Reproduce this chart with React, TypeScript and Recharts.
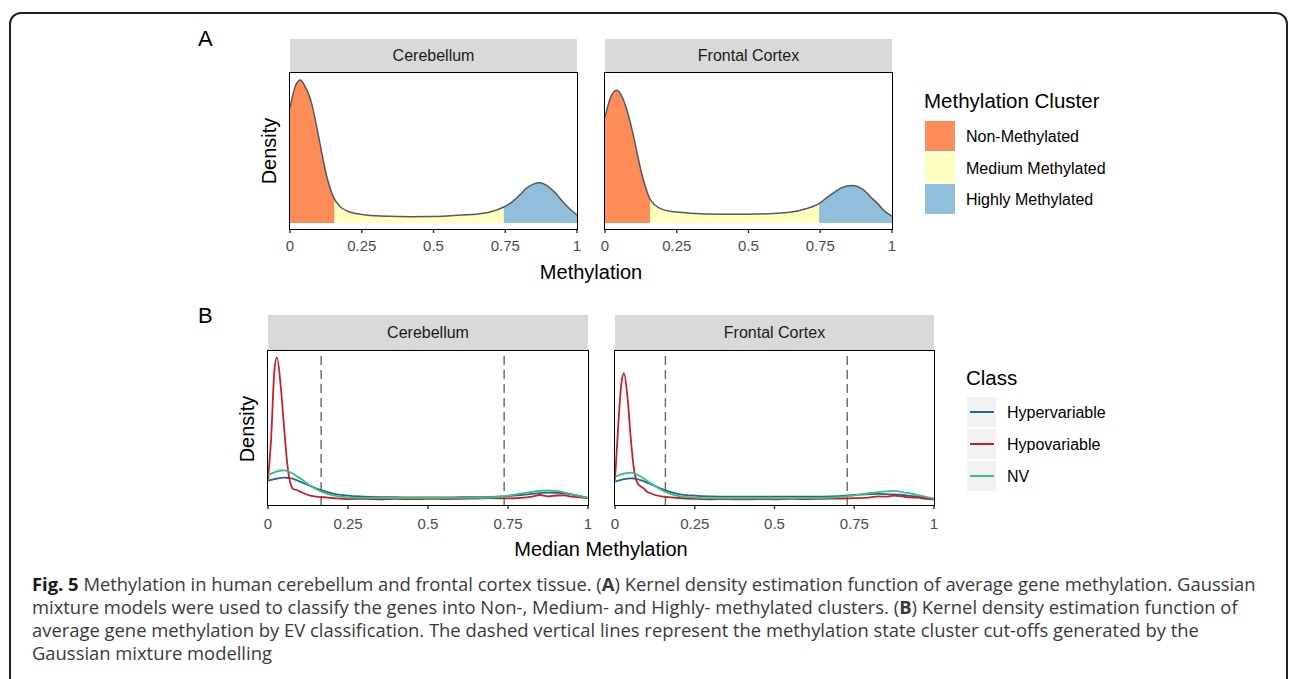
import React from 'react';
import { ComposedChart, Area, Line, XAxis, YAxis, ReferenceLine } from 'recharts';

const FONT = "'Liberation Sans', Arial, Helvetica, sans-serif";

// ---- A: kernel density of average gene methylation, coloured by GMM cluster ----
const xCerebellumA = [0, 0.02, 0.037, 0.05, 0.075, 0.1, 0.125, 0.155, 0.175, 0.2, 0.25, 0.3, 0.35, 0.42, 0.5, 0.6, 0.65, 0.7, 0.745, 0.775, 0.8, 0.825, 0.85, 0.87, 0.9, 0.925, 0.95, 0.975, 1];
const densCerebellumA = [3.38, 4.05, 4.2, 4.05, 3.52, 2.53, 1.47, 0.7, 0.48, 0.35, 0.25, 0.21, 0.195, 0.185, 0.19, 0.235, 0.26, 0.33, 0.47, 0.63, 0.82, 1.03, 1.15, 1.18, 1.07, 0.88, 0.63, 0.41, 0.235];
const cutCerebellumA = [0.155, 0.745];

const xFrontalA = [0, 0.02, 0.041, 0.06, 0.08, 0.1, 0.125, 0.157, 0.175, 0.2, 0.25, 0.3, 0.4, 0.5, 0.6, 0.65, 0.7, 0.746, 0.775, 0.8, 0.825, 0.86, 0.9, 0.925, 0.95, 0.975, 1];
const densFrontalA = [3.11, 3.7, 3.9, 3.7, 3.21, 2.53, 1.55, 0.7, 0.52, 0.4, 0.32, 0.285, 0.26, 0.26, 0.29, 0.32, 0.42, 0.57, 0.76, 0.91, 1.04, 1.1, 0.98, 0.77, 0.57, 0.34, 0.2];
const cutFrontalA = [0.157, 0.746];

const clusterNames = ['Non-Methylated', 'Medium Methylated', 'Highly Methylated'];
const clusterColors = ['#fc8d59', '#ffffbf', '#91bfdb'];

// ---- B: density of median methylation by EV class ----
const xB = [0, 0.01, 0.02, 0.028, 0.04, 0.05, 0.06, 0.07, 0.08, 0.09, 0.1, 0.11, 0.125, 0.15, 0.175, 0.2, 0.25, 0.3, 0.35, 0.4, 0.45, 0.5, 0.55, 0.6, 0.65, 0.7, 0.75, 0.8, 0.825, 0.85, 0.875, 0.9, 0.925, 0.95, 0.975, 1];

const hyperCerebellum = [1.62, 1.7, 1.76, 1.8, 1.86, 1.88, 1.87, 1.83, 1.76, 1.66, 1.54, 1.43, 1.26, 0.98, 0.76, 0.56, 0.36, 0.29, 0.25, 0.23, 0.22, 0.22, 0.22, 0.23, 0.24, 0.27, 0.33, 0.45, 0.52, 0.58, 0.62, 0.61, 0.57, 0.46, 0.32, 0.18];
const hypoCerebellum = [1.7, 5.3, 10.9, 12.0, 9.5, 6.2, 3.1, 1.4, 0.9, 0.84, 0.7, 0.59, 0.42, 0.28, 0.23, 0.17, 0.08, 0.1, 0.06, 0.09, 0.07, 0.1, 0.08, 0.1, 0.12, 0.15, 0.13, 0.2, 0.28, 0.42, 0.3, 0.38, 0.4, 0.28, 0.22, 0.15];
const nvCerebellum = [2.1, 2.22, 2.33, 2.4, 2.48, 2.5, 2.45, 2.32, 2.18, 2.0, 1.82, 1.64, 1.35, 0.93, 0.62, 0.42, 0.22, 0.18, 0.17, 0.17, 0.17, 0.17, 0.17, 0.18, 0.19, 0.23, 0.36, 0.58, 0.68, 0.76, 0.8, 0.76, 0.64, 0.48, 0.32, 0.2];

const hyperFrontal = [1.54, 1.62, 1.7, 1.75, 1.8, 1.82, 1.81, 1.76, 1.68, 1.58, 1.46, 1.36, 1.18, 0.9, 0.67, 0.5, 0.36, 0.3, 0.28, 0.28, 0.28, 0.28, 0.28, 0.28, 0.29, 0.33, 0.42, 0.5, 0.51, 0.5, 0.47, 0.42, 0.35, 0.28, 0.19, 0.11];
const hypoFrontal = [1.7, 6.2, 9.8, 10.66, 8.4, 5.0, 2.5, 1.45, 1.15, 0.98, 0.7, 0.58, 0.42, 0.28, 0.22, 0.17, 0.1, 0.06, 0.08, 0.05, 0.08, 0.06, 0.09, 0.08, 0.1, 0.12, 0.15, 0.22, 0.3, 0.28, 0.38, 0.3, 0.22, 0.2, 0.1, 0.06];
const nvFrontal = [1.96, 2.06, 2.15, 2.22, 2.29, 2.3, 2.24, 2.12, 1.98, 1.8, 1.62, 1.45, 1.18, 0.78, 0.5, 0.33, 0.2, 0.15, 0.14, 0.14, 0.14, 0.14, 0.14, 0.15, 0.17, 0.25, 0.39, 0.59, 0.67, 0.73, 0.76, 0.67, 0.55, 0.42, 0.26, 0.11];

const cutCerebellumB = [0.166, 0.738];
const cutFrontalB = [0.158, 0.728];

const classNames = ['Hypervariable', 'Hypovariable', 'NV'];
const classColors = ['#27648f', '#c8202a', '#33c27f'];

const xTicks = [0, 0.25, 0.5, 0.75, 1];
const facetNames = ['Cerebellum', 'Frontal Cortex'];

const clusterRows = (xs: number[], ds: number[], cuts: number[]) =>
  xs.map((x, i) => ({
    x,
    d: ds[i],
    non: x <= cuts[0] ? ds[i] : null,
    med: x >= cuts[0] && x <= cuts[1] ? ds[i] : null,
    high: x >= cuts[1] ? ds[i] : null,
  }));

const classRows = (hyper: number[], hypo: number[], nv: number[]) =>
  xB.map((x, i) => ({ x, hyper: hyper[i], hypo: hypo[i], nv: nv[i] }));

const PAD = 16;

const Panel = ({ left, top, width, height, data, domain, tickMargin, strip, stripTop, items }: any) => (
  <>
    <div style={{
      position: 'absolute', left, top: stripTop, width, height: top - stripTop,
      background: '#d9d9d9', color: '#1a1a1a', fontSize: 16, display: 'flex',
      alignItems: 'center', justifyContent: 'center',
    }}>{strip}</div>
    <div style={{ position: 'absolute', left: left - PAD, top }}>
      <ComposedChart width={width + 2 * PAD} height={height + 30} data={data}
        margin={{ top: 0, right: PAD, bottom: 0, left: PAD }}>
        <XAxis dataKey="x" type="number" domain={[0, 1]} ticks={xTicks} interval={0}
          tickFormatter={(v: number) => String(v)} axisLine={false}
          tickLine={{ stroke: '#333', strokeWidth: 1.4 }} tickSize={4} tickMargin={tickMargin}
          height={30} tick={{ fill: '#4d4d4d', fontSize: 15, fontFamily: FONT }} allowDataOverflow />
        <YAxis hide type="number" domain={domain} allowDataOverflow />
        {items}
      </ComposedChart>
    </div>
    <div style={{
      position: 'absolute', left: left - 0.75, top: top - 0.75, width: width + 1.5, height: height + 1.5,
      border: '1.6px solid #000', boxSizing: 'border-box', pointerEvents: 'none',
    }} />
  </>
);

const clusterItems = () => [
  <Area key="non" dataKey="non" type="monotone" fill={clusterColors[0]} fillOpacity={1} stroke="none" baseValue={0} isAnimationActive={false} />,
  <Area key="med" dataKey="med" type="monotone" fill={clusterColors[1]} fillOpacity={1} stroke="none" baseValue={0} isAnimationActive={false} />,
  <Area key="high" dataKey="high" type="monotone" fill={clusterColors[2]} fillOpacity={1} stroke="none" baseValue={0} isAnimationActive={false} />,
  <Line key="d" dataKey="d" type="monotone" stroke="#595959" strokeWidth={1.5} dot={false} isAnimationActive={false} />,
];

const classItems = (cuts: number[]) => [
  ...cuts.map((c) => (
    <ReferenceLine key={`cut-${c}`} x={c} stroke="#666" strokeWidth={1.4} strokeDasharray="9 5" />
  )),
  <Line key="hyper" dataKey="hyper" type="monotone" stroke={classColors[0]} strokeWidth={1.8} dot={false} isAnimationActive={false} />,
  <Line key="hypo" dataKey="hypo" type="monotone" stroke={classColors[1]} strokeWidth={1.8} dot={false} isAnimationActive={false} />,
  <Line key="nv" dataKey="nv" type="monotone" stroke={classColors[2]} strokeWidth={1.8} dot={false} isAnimationActive={false} />,
];

const text = (content: React.ReactNode, style: React.CSSProperties) => (
  <div style={{ position: 'absolute', whiteSpace: 'nowrap', lineHeight: 1, ...style }}>{content}</div>
);

const vtext = (content: string, cx: number, cy: number) => (
  <div style={{
    position: 'absolute', left: cx, top: cy, fontSize: 20, lineHeight: 1, whiteSpace: 'nowrap',
    transform: 'translate(-50%, -50%) rotate(-90deg)', color: '#000',
  }}>{content}</div>
);

const App: React.FC = () => {
  const domainA = [-0.176, 4.406];
  const domainB = [-0.42, 12.53];

  return (
    <div style={{
      position: 'absolute', left: 0, top: 0, width: 1292, height: 679, overflow: 'hidden',
      background: '#fff', fontFamily: FONT,
    }}>
      {/* figure frame */}
      <div style={{
        position: 'absolute', left: 9, top: 12, width: 1279, height: 720,
        border: '2px solid #222', borderRadius: 12, boxSizing: 'border-box',
      }} />

      {text('A', { left: 198, top: 28, fontSize: 22 })}
      {text('B', { left: 198, top: 305, fontSize: 22 })}

      {/* A */}
      <Panel left={290} top={73} width={287} height={156} stripTop={39} strip={facetNames[0]}
        data={clusterRows(xCerebellumA, densCerebellumA, cutCerebellumA)} domain={domainA}
        tickMargin={7} items={clusterItems()} />
      <Panel left={605} top={73} width={287} height={156} stripTop={39} strip={facetNames[1]}
        data={clusterRows(xFrontalA, densFrontalA, cutFrontalA)} domain={domainA}
        tickMargin={7} items={clusterItems()} />
      {vtext('Density', 269, 151)}
      {text('Methylation', { left: 591, top: 261.5, fontSize: 20, transform: 'translateX(-50%)' })}

      {text('Methylation Cluster', { left: 924, top: 90.5, fontSize: 20.5 })}
      {clusterNames.map((name, i) => (
        <div key={name} style={{ position: 'absolute', left: 925, top: 121 + i * 31.7, height: 30, display: 'flex', alignItems: 'center' }}>
          <div style={{ width: 30, height: 30, background: clusterColors[i] }} />
          <span style={{ marginLeft: 11, fontSize: 16, paddingTop: 2 }}>{name}</span>
        </div>
      ))}

      {/* B */}
      <Panel left={268} top={351} width={320} height={154} stripTop={315} strip={facetNames[0]}
        data={classRows(hyperCerebellum, hypoCerebellum, nvCerebellum)} domain={domainB}
        tickMargin={9} items={classItems(cutCerebellumB)} />
      <Panel left={615} top={351} width={319} height={154} stripTop={315} strip={facetNames[1]}
        data={classRows(hyperFrontal, hypoFrontal, nvFrontal)} domain={domainB}
        tickMargin={9} items={classItems(cutFrontalB)} />
      {vtext('Density', 247, 429)}
      {text('Median Methylation', { left: 601, top: 538.5, fontSize: 20, transform: 'translateX(-50%)' })}

      {text('Class', { left: 966, top: 367.5, fontSize: 20.5 })}
      {classNames.map((name, i) => (
        <div key={name} style={{ position: 'absolute', left: 967, top: 397 + i * 32.2, height: 30, display: 'flex', alignItems: 'center' }}>
          <div style={{ width: 29, height: 30, background: '#f2f2f2', display: 'flex', alignItems: 'center', justifyContent: 'center' }}>
            <div style={{ width: 24, height: 1.8, background: classColors[i] }} />
          </div>
          <span style={{ marginLeft: 11, fontSize: 16, paddingTop: 2 }}>{name}</span>
        </div>
      ))}

      {/* caption */}
      <div style={{
        position: 'absolute', left: 32, top: 572, fontFamily: "'Open Sans', sans-serif", fontSize: 18.4,
        lineHeight: '23px', color: '#3a3a3a', whiteSpace: 'pre',
      }}>
        <b style={{ color: '#1a1a1a' }}>Fig. 5</b>{' Methylation in human cerebellum and frontal cortex tissue. ('}<b>A</b>{') Kernel density estimation function of average gene methylation. Gaussian'}
        <br />
        {'mixture models were used to classify the genes into Non-, Medium- and Highly- methylated clusters. ('}<b>B</b>{') Kernel density estimation function of'}
        <br />
        {'average gene methylation by EV classification. The dashed vertical lines represent the methylation state cluster cut-offs generated by the'}
        <br />
        {'Gaussian mixture modelling'}
      </div>
    </div>
  );
};

export default App;
